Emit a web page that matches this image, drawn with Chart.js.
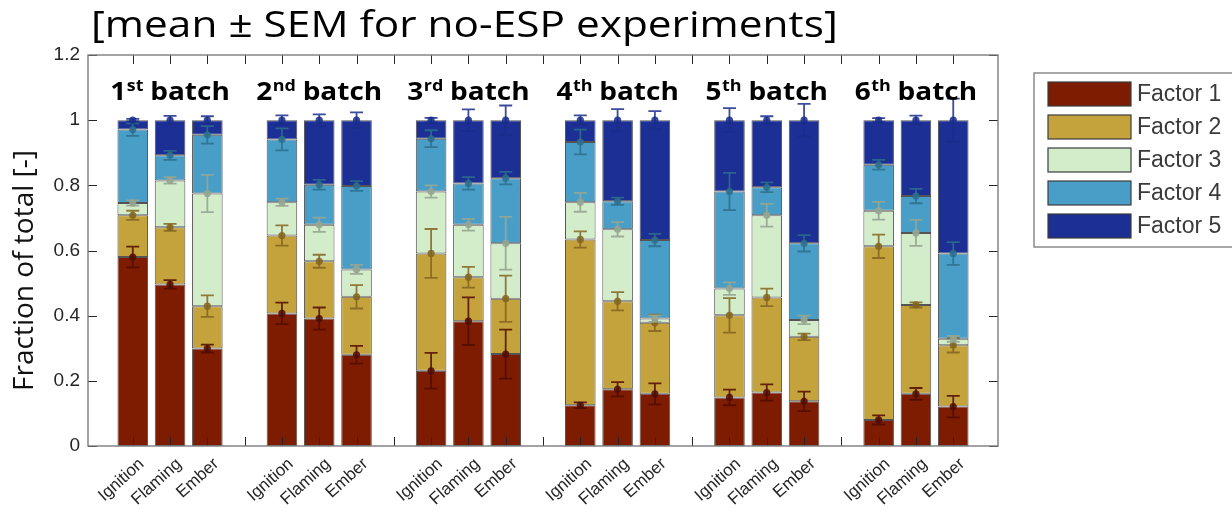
<!DOCTYPE html>
<html>
<head>
<meta charset="utf-8">
<script src="https://cdn.jsdelivr.net/npm/chart.js@4.4.1/dist/chart.umd.min.js"></script>
<style>
  html, body { margin: 0; padding: 0; background: #ffffff; }
  #wrap { width: 1232px; height: 516px; position: relative; }
</style>
</head>
<body>
<div id="wrap"><canvas id="chart" width="1232" height="516"></canvas></div>
<script>
// Tick slots along the x axis; empty strings are the spacer slots between batches
const categories = [
  'Ignition', 'Flaming', 'Ember', '',
  'Ignition', 'Flaming', 'Ember', '',
  'Ignition', 'Flaming', 'Ember', '',
  'Ignition', 'Flaming', 'Ember', '',
  'Ignition', 'Flaming', 'Ember', '',
  'Ignition', 'Flaming', 'Ember'
];
const batchLabels = [['1', 'st'], ['2', 'nd'], ['3', 'rd'], ['4', 'th'], ['5', 'th'], ['6', 'th']];
const factorNames = ['Factor 1', 'Factor 2', 'Factor 3', 'Factor 4', 'Factor 5'];

// Mean fraction of each factor, one entry per bar (batch 1..6 x Ignition/Flaming/Ember)
const factor1 = [0.580, 0.496, 0.299, 0.407, 0.391, 0.280, 0.231, 0.383, 0.282, 0.125, 0.174, 0.160, 0.149, 0.164, 0.137, 0.080, 0.160, 0.121];
const factor2 = [0.128, 0.175, 0.130, 0.239, 0.176, 0.178, 0.360, 0.135, 0.170, 0.509, 0.270, 0.218, 0.252, 0.292, 0.198, 0.533, 0.273, 0.188];
const factor3 = [0.038, 0.144, 0.346, 0.102, 0.112, 0.084, 0.190, 0.161, 0.170, 0.114, 0.221, 0.013, 0.082, 0.252, 0.052, 0.109, 0.221, 0.020];
const factor4 = [0.225, 0.077, 0.180, 0.193, 0.123, 0.256, 0.162, 0.127, 0.200, 0.185, 0.086, 0.241, 0.298, 0.086, 0.235, 0.141, 0.113, 0.262];
const factor5 = [0.029, 0.108, 0.045, 0.059, 0.198, 0.202, 0.057, 0.194, 0.178, 0.067, 0.249, 0.368, 0.219, 0.206, 0.378, 0.137, 0.233, 0.409];

// Standard error of the mean for each factor, same bar order
const sem1 = [0.032, 0.013, 0.012, 0.033, 0.034, 0.027, 0.055, 0.073, 0.075, 0.009, 0.022, 0.032, 0.024, 0.025, 0.030, 0.014, 0.018, 0.033];
const sem2 = [0.014, 0.011, 0.033, 0.031, 0.020, 0.036, 0.075, 0.032, 0.071, 0.025, 0.028, 0.025, 0.053, 0.027, 0.010, 0.036, 0.008, 0.022];
const sem3 = [0.008, 0.010, 0.057, 0.011, 0.022, 0.014, 0.019, 0.018, 0.081, 0.029, 0.022, 0.010, 0.019, 0.035, 0.013, 0.027, 0.040, 0.009];
const sem4 = [0.019, 0.014, 0.027, 0.034, 0.015, 0.015, 0.026, 0.019, 0.019, 0.038, 0.011, 0.019, 0.057, 0.015, 0.025, 0.015, 0.022, 0.035];
const sem5 = [0.004, 0.013, 0.012, 0.015, 0.018, 0.024, 0.007, 0.033, 0.045, 0.015, 0.034, 0.028, 0.037, 0.012, 0.050, 0.006, 0.014, 0.066];

const yTickValues = [0, 0.2, 0.4, 0.6, 0.8, 1, 1.2];
const yTickLabels = ['0', '0.2', '0.4', '0.6', '0.8', '1', '1.2'];

const titleText = '[mean \u00B1 SEM for no-ESP experiments]';
const yTitleText = 'Fraction of total [-]';

const factorValues = [factor1, factor2, factor3, factor4, factor5];
const factorSems = [sem1, sem2, sem3, sem4, sem5];
const fillColors = ['#7e1c02', '#c4a33d', '#d3edcb', '#499ec8', '#1b2f94'];
const errColors = ['rgba(80,12,0,0.85)', 'rgba(130,100,30,0.85)', 'rgba(150,165,145,0.9)', 'rgba(45,110,140,0.85)', 'rgba(25,45,140,0.85)'];

// Bar i sits in slot i + (number of spacers before it) + 1
const slotOf = i => i + Math.floor(i / 3) + 1;

const datasets = factorValues.map((vals, d) => ({
  label: factorNames[d],
  data: vals.map((v, i) => ({ x: slotOf(i), y: v })),
  backgroundColor: fillColors[d],
  borderColor: '#545454',
  borderWidth: 1,
  borderSkipped: false,
  barPercentage: 0.82,
  categoryPercentage: 1.0
}));

// Text drawn with a slight horizontal widening
function wideText(ctx, text, x, y, sx) {
  ctx.save();
  ctx.translate(x, y);
  ctx.scale(sx, 1);
  ctx.fillText(text, 0, 0);
  ctx.restore();
}

// Axes frame with inward tick marks on all four sides
const framePlugin = {
  id: 'frame',
  afterDatasetsDraw(chart) {
    const { ctx, chartArea: a, scales: { x, y } } = chart;
    const tl = 9;
    ctx.save();
    ctx.strokeStyle = '#262626';
    ctx.lineWidth = 1;
    ctx.beginPath();
    x.ticks.forEach(t => {
      const px = Math.round(x.getPixelForValue(t.value)) + 0.5;
      ctx.moveTo(px, a.bottom); ctx.lineTo(px, a.bottom - tl);
      ctx.moveTo(px, a.top); ctx.lineTo(px, a.top + tl);
    });
    y.ticks.forEach(t => {
      const py = Math.round(y.getPixelForValue(t.value)) + 0.5;
      ctx.moveTo(a.left, py); ctx.lineTo(a.left + tl, py);
      ctx.moveTo(a.right, py); ctx.lineTo(a.right - tl, py);
    });
    ctx.stroke();
    ctx.strokeStyle = '#7d7d7d';
    ctx.lineWidth = 1.4;
    ctx.strokeRect(a.left, a.top, a.right - a.left, a.bottom - a.top);
    ctx.restore();
  }
};

// Mean ± SEM whiskers at the top of every stacked segment
const errorBarPlugin = {
  id: 'errorBars',
  afterDatasetsDraw(chart) {
    const { ctx, scales: { y } } = chart;
    const cap = 6.5;
    ctx.save();
    ctx.lineWidth = 1.8;
    factorValues[0].forEach((_, i) => {
      let cum = 0;
      factorValues.forEach((vals, d) => {
        cum += vals[i];
        const bar = chart.getDatasetMeta(d).data[i];
        const px = bar.x;
        const yc = y.getPixelForValue(cum);
        const yl = y.getPixelForValue(cum - factorSems[d][i]);
        const yh = y.getPixelForValue(cum + factorSems[d][i]);
        ctx.strokeStyle = errColors[d];
        ctx.fillStyle = errColors[d];
        ctx.beginPath();
        ctx.moveTo(px, yl); ctx.lineTo(px, yh);
        ctx.moveTo(px - cap, yl); ctx.lineTo(px + cap, yl);
        ctx.moveTo(px - cap, yh); ctx.lineTo(px + cap, yh);
        ctx.stroke();
        ctx.beginPath();
        ctx.arc(px, yc, 3.6, 0, Math.PI * 2);
        ctx.fill();
      });
    });
    ctx.restore();
  }
};

// Batch headings above each group of three bars, with ordinal superscripts
const batchLabelPlugin = {
  id: 'batchLabels',
  afterDatasetsDraw(chart) {
    const { ctx, scales: { x, y } } = chart;
    const sx = 1.12;
    const big = 'bold 25px "Open Sans"';
    const small = 'bold 16px "Open Sans"';
    const baseY = y.getPixelForValue(1.061);
    ctx.save();
    ctx.fillStyle = '#000000';
    ctx.textBaseline = 'alphabetic';
    ctx.textAlign = 'left';
    batchLabels.forEach(([num, sup], g) => {
      const cx = x.getPixelForValue(4 * g + 2);
      ctx.font = big; const wNum = ctx.measureText(num).width * sx;
      const wRest = ctx.measureText(' batch').width * sx;
      ctx.font = small; const wSup = ctx.measureText(sup).width * sx;
      let px = cx - (wNum + wSup + wRest) / 2;
      ctx.font = big; wideText(ctx, num, px, baseY, sx); px += wNum;
      ctx.font = small; wideText(ctx, sup, px + 0.5, baseY - 9, sx); px += wSup;
      ctx.font = big; wideText(ctx, ' batch', px, baseY, sx);
    });
    ctx.restore();
  }
};

// Heading line, y-axis caption and the legend box to the right of the axes
const decorPlugin = {
  id: 'decor',
  afterDraw(chart) {
    const { ctx, chartArea: a } = chart;
    ctx.save();
    ctx.fillStyle = '#000000';
    ctx.font = '37px "Open Sans"';
    ctx.textBaseline = 'alphabetic';
    ctx.textAlign = 'left';
    wideText(ctx, titleText, a.left + 3, 37, 1.145);

    ctx.save();
    ctx.translate(a.left - 63, (a.top + a.bottom) / 2 + 20);
    ctx.rotate(-Math.PI / 2);
    ctx.textAlign = 'center';
    ctx.textBaseline = 'middle';
    ctx.font = '28px "Open Sans"';
    ctx.fillStyle = '#111111';
    ctx.fillText(yTitleText, 0, 0);
    ctx.restore();

    const bx = a.right + 36, by = a.top + 18;
    ctx.strokeStyle = '#8a8a8a';
    ctx.lineWidth = 1.5;
    ctx.fillStyle = '#ffffff';
    ctx.fillRect(bx, by, 260, 174);
    ctx.strokeRect(bx, by, 260, 174);
    ctx.font = '23px "Liberation Sans"';
    ctx.textBaseline = 'middle';
    factorNames.forEach((name, d) => {
      const ry = by + 9 + d * 33;
      ctx.fillStyle = fillColors[d];
      ctx.fillRect(bx + 14, ry, 83, 24);
      ctx.strokeStyle = '#3c3c3c';
      ctx.lineWidth = 1.2;
      ctx.strokeRect(bx + 14, ry, 83, 24);
      ctx.fillStyle = '#3a3a3a';
      ctx.fillText(name, bx + 103, ry + 13);
    });
    ctx.restore();
  }
};

new Chart(document.getElementById('chart'), {
  type: 'bar',
  data: { datasets },
  options: {
    responsive: false,
    animation: false,
    layout: { padding: { left: 0, right: 234, top: 55, bottom: 0 } },
    plugins: { legend: { display: false }, tooltip: { enabled: false }, title: { display: false } },
    scales: {
      x: {
        type: 'linear',
        stacked: true,
        offset: false,
        min: -0.2,
        max: 24.2,
        grid: { display: false, drawTicks: false },
        border: { display: false },
        afterBuildTicks: s => { s.ticks = categories.map((_, i) => ({ value: i + 1 })); },
        afterFit: s => { s.height = 70; },
        ticks: {
          autoSkip: false,
          minRotation: 42,
          maxRotation: 42,
          padding: 8,
          labelOffset: 9,
          color: '#262626',
          font: { family: '"Liberation Sans"', size: 17 },
          callback: v => categories[v - 1]
        }
      },
      y: {
        stacked: true,
        min: 0,
        max: 1.2,
        grid: { display: false, drawTicks: false },
        border: { display: false },
        afterBuildTicks: s => { s.ticks = yTickValues.map(v => ({ value: v })); },
        afterFit: s => { s.width = 88; },
        ticks: {
          padding: 8,
          color: '#262626',
          font: { family: '"Liberation Sans"', size: 19 },
          callback: (v, i) => yTickLabels[i]
        }
      }
    }
  },
  plugins: [framePlugin, errorBarPlugin, batchLabelPlugin, decorPlugin]
});
</script>
</body>
</html>
